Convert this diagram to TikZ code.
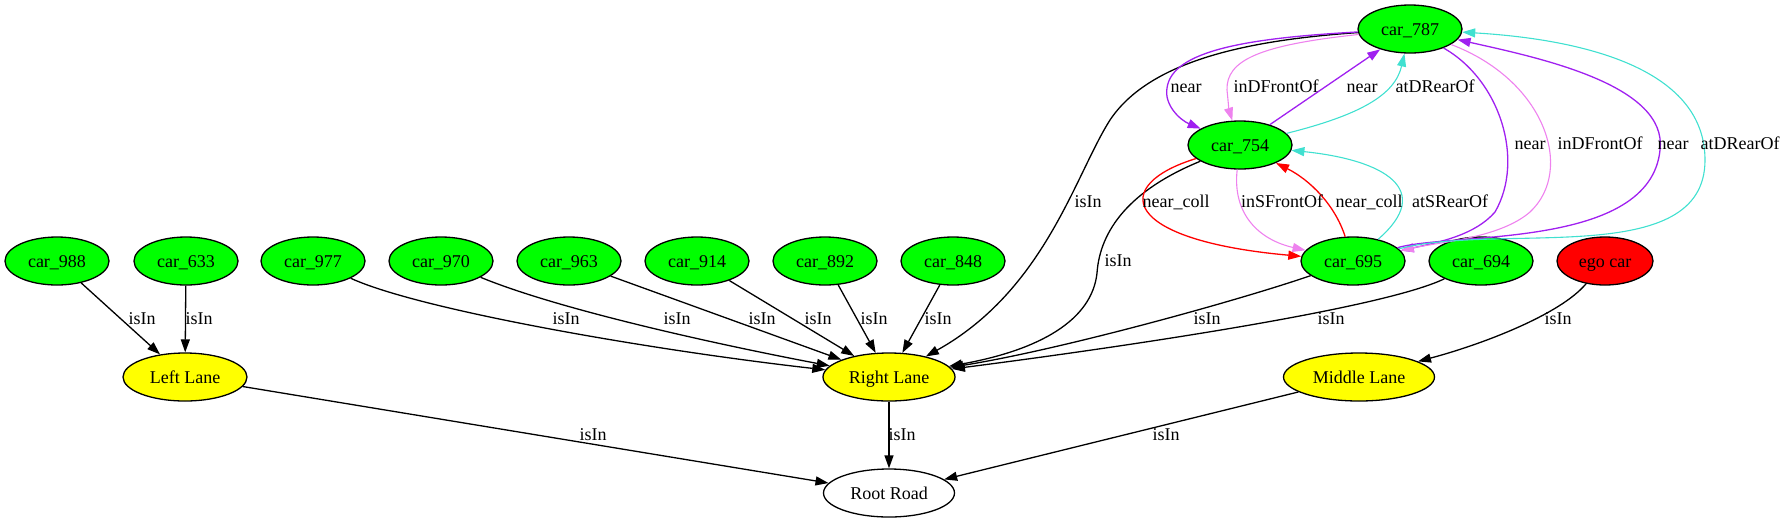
\documentclass[tikz,border=0pt]{standalone}
\usepackage{fontspec}
\setmainfont{Liberation Serif}
\usetikzlibrary{arrows.meta,shapes.geometric}
\definecolor{cgreen}{HTML}{00FF00}
\definecolor{cyellow}{HTML}{FFFF00}
\definecolor{cred}{HTML}{FF0000}
\definecolor{cpurple}{HTML}{A020F0}
\definecolor{cviolet}{HTML}{EE82EE}
\definecolor{cturq}{HTML}{40E0D0}
\begin{document}
\begin{tikzpicture}[x=1pt,y=-1pt,
  every node/.style={font=\fontsize{18}{21}\selectfont},
  gnode/.style={ellipse,draw,line width=1.3pt,inner sep=0pt,minimum height=48pt,text height=12pt,text depth=0pt},
  car/.style={gnode,fill=cgreen,minimum width=104pt},
  lane/.style={gnode,fill=cyellow},
  e/.style={-{Triangle[length=13pt,width=9pt]},line width=1.3pt,black},
  pu/.style={e,draw=cpurple},
  vi/.style={e,draw=cviolet,line width=1.1pt},
  tq/.style={e,draw=cturq,line width=1.1pt},
  rd/.style={e,draw=cred},
  lab/.style={anchor=base,inner sep=0pt}]
\useasboundingbox (0,0) rectangle (1787,523);
% nodes
\node[car] (c787) at (1410,29) {car\_787};
\node[car] (c754) at (1240,145) {car\_754};
\node[car] (c988) at (57,261) {car\_988};
\node[car] (c633) at (186,261) {car\_633};
\node[car] (c977) at (313,261) {car\_977};
\node[car] (c970) at (441,261) {car\_970};
\node[car] (c963) at (569,261) {car\_963};
\node[car] (c914) at (697,261) {car\_914};
\node[car] (c892) at (825,261) {car\_892};
\node[car] (c848) at (953,261) {car\_848};
\node[car] (c695) at (1353,261) {car\_695};
\node[car] (c694) at (1481,261) {car\_694};
\node[gnode,fill=cred,minimum width=96pt] (ego) at (1605,261) {ego car};
\node[lane,minimum width=124pt] (LL) at (185,377) {Left Lane};
\node[lane,minimum width=132pt] (RL) at (889,377) {Right Lane};
\node[lane,minimum width=151pt] (ML) at (1359,377) {Middle Lane};
\node[gnode,fill=white,minimum width=131pt] (Root) at (889,493) {Root Road};
% bottom edges
\draw[e] (c988) -- (LL);
\draw[e] (c633) -- (LL);
\draw[e] (c977) .. controls (420,310) and (650,350) .. (RL);
\draw[e] (c970) .. controls (560,310) and (720,345) .. (RL);
\draw[e] (c963) -- (RL);
\draw[e] (c914) -- (RL);
\draw[e] (c892) -- (RL);
\draw[e] (c848) -- (RL);
\draw[e] (c695) .. controls (1240,300) and (1060,350) .. (RL);
\draw[e] (c694) .. controls (1380,310) and (1100,350) .. (RL);
\draw[e] (ego) .. controls (1560,315) and (1480,345) .. (ML);
\draw[e] (LL) -- (Root);
\draw[e] (RL) -- (Root);
\draw[e] (ML) -- (Root);
\draw[e] (c787) .. controls (1250,40) and (1150,60) .. (1110,120) .. controls (1075,175) and (1045,290) .. (RL);
\draw[e] (c754) .. controls (1130,190) and (1100,230) .. (1097,273) .. controls (1092,320) and (1040,350) .. (RL);
% top cluster
\draw[pu] (c787) .. controls (1250,38) and (1172,50) .. (1167,88) .. controls (1164,105) and (1180,120) .. (c754);
\draw[vi] (c787) .. controls (1260,45) and (1226,60) .. (1227,90) .. controls (1228,100) and (1229,110) .. (c754);
\draw[pu] (c754) -- (c787);
\draw[tq] (c754) .. controls (1360,115) and (1395,95) .. (c787);
\draw[pu] (c787) .. controls (1500,80) and (1525,160) .. (1495,212) .. controls (1475,235) and (1440,242) .. (c695);
\draw[vi] (c787) .. controls (1545,80) and (1575,170) .. (1530,212) .. controls (1500,238) and (1440,242) .. (c695);
\draw[pu] (c695) .. controls (1450,232) and (1650,250) .. (1660,150) .. controls (1668,85) and (1540,58) .. (c787);
\draw[tq] (c695) .. controls (1500,222) and (1705,270) .. (1705,160) .. controls (1705,60) and (1560,38) .. (c787);
\draw[tq] (c695) .. controls (1435,190) and (1385,160) .. (c754);
\draw[rd] (c695) .. controls (1335,205) and (1310,180) .. (c754);
\draw[rd] (c754) .. controls (1110,185) and (1120,240) .. (c695);
\draw[vi] (c754) .. controls (1232,215) and (1260,240) .. (c695);
% labels
\node[lab] (l1) at (1186,92) {near};
\node[lab] (l2) at (1276,92) {inDFrontOf};
\node[lab] (l3) at (1362,92) {near};
\node[lab] (l4) at (1435,92) {atDRearOf};
\node[lab] (l5) at (1530,149) {near};
\node[lab] (l6) at (1600,149) {inDFrontOf};
\node[lab] (l7) at (1673,149) {near};
\node[lab] (l8) at (1740,149) {atDRearOf};
\node[lab] (l9) at (1176,207) {near\_coll};
\node[lab] (l10) at (1282,207) {inSFrontOf};
\node[lab] (l11) at (1369,207) {near\_coll};
\node[lab] (l12) at (1450,207) {atSRearOf};
\node[lab] (l13) at (1088,207) {isIn};
\node[lab] (l14) at (1118,266) {isIn};
\foreach \x [count=\i] in {142,199,566,677,762,818,874,938,1207,1331,1558}
  \node[lab] (b\i) at (\x,324) {isIn};
\foreach \x [count=\i] in {593,902,1166}
  \node[lab] (r\i) at (\x,440) {isIn};
\end{tikzpicture}
\end{document}
